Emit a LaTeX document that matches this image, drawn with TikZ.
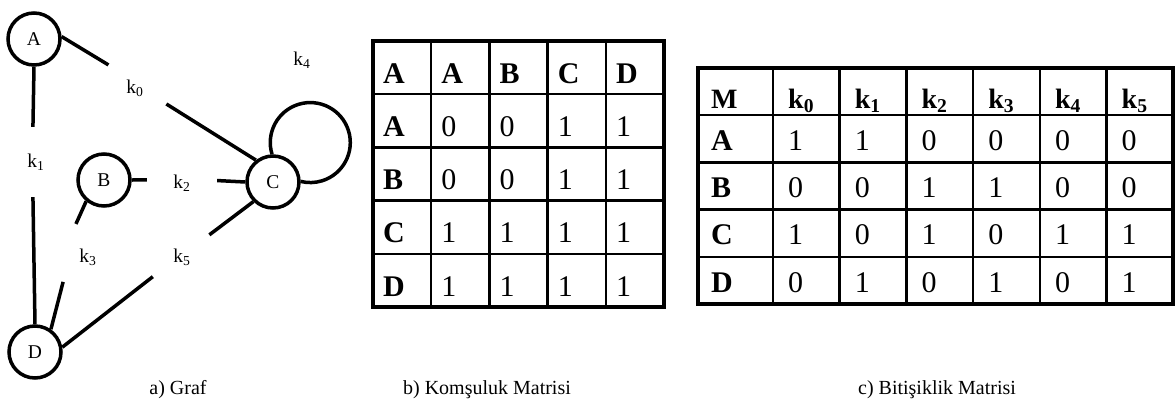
\documentclass[tikz,border=0pt]{standalone}
\usepackage{fontspec}
\setmainfont{Liberation Serif}
\usetikzlibrary{positioning}

\begin{document}
\begin{tikzpicture}[
    x=1pt, y=1pt,
    vertex/.style={circle, draw, line width=3.5pt, minimum size=52pt, inner sep=0pt,
                   font=\fontsize{19.5}{22}\selectfont},
    klabel/.style={circle, minimum size=70pt, inner sep=0pt, font=\fontsize{19.5}{22}\selectfont},
    link/.style={line width=3.5pt},
    cell/.style={anchor=base west, inner sep=0pt, font=\fontsize{30}{34}\selectfont},
    headcell/.style={cell, font=\fontsize{28}{32}\selectfont},
    rule/.style={line width=2.5pt},
    frame/.style={line width=3.5pt},
    caption/.style={anchor=base, font=\fontsize{20}{24}\selectfont}
  ]
    \useasboundingbox (0,0) rectangle (1176,-410);

    % a) graf
    \node[vertex] (A) at (34,-39) {A};
    \node[vertex] (B) at (104,-180) {B};
    \node[vertex] (C) at (273,-182) {C};
    \node[vertex] (D) at (35,-352) {D};
    \node[klabel] (k0) at (135,-88) {k\textsubscript{0}};
    \node[klabel] (k1) at (36,-162) {k\textsubscript{1}};
    \node[klabel] (k2) at (182,-183) {k\textsubscript{2}};
    \node[klabel] (k3) at (88,-257) {k\textsubscript{3}};
    \node[klabel] (k4) at (302,-60) {k\textsubscript{4}};
    \node[klabel] (k5) at (182,-257) {k\textsubscript{5}};
    \draw[link] (A.5) -- (k0.139);
    \draw[link] (k0.333) -- (C.128);
    \draw[link] (A.south) -- (k1.95);
    \draw[link] (k1.265) -- (D.north);
    \draw[link] (B.east) -- (k2.175);
    \draw[link] (k2.4) -- (C.west);
    \draw[link] (B.230) -- (k3.110);
    \draw[link] (k3.225) -- (D.55);
    \draw[link] (C.225) -- (k5.39);
    \draw[link] (k5.214) -- (D.10);
    \draw[link] (C.92) arc[start angle=197, end angle=-104, radius=40];
    \node[caption] (capA) at (178,-394) {a) Graf};

    % b) komsuluk matrisi
    \foreach \row [count=\r from 0] in {{\textbf{A},\textbf{A},\textbf{B},\textbf{C},\textbf{D}},
                                        {\textbf{A},0,0,1,1}, {\textbf{B},0,0,1,1},
                                        {\textbf{C},1,1,1,1}, {\textbf{D},1,1,1,1}}
      \foreach \val [count=\i from 0] in \row
        \node[cell] (komsu-\r-\i) at ({383+58.2*\i}, {-41-53.2*(\r+1)+11}) {\val};
    \foreach \i in {1,...,4}
      \draw[rule] ({373+58.2*\i},-41) -- ++(0,-266);
    \foreach \r in {1,...,4}
      \draw[rule] (373,{-41-53.2*\r}) -- ++(291,0);
    \draw[frame] (373,-41) rectangle (664,-307);
    \node[caption] (capB) at (487,-394) {b) Komşuluk Matrisi};

    % c) bitisiklik matrisi
    \foreach \val [count=\i from 0] in {M,k\textsubscript{0},k\textsubscript{1},k\textsubscript{2},
                                        k\textsubscript{3},k\textsubscript{4},k\textsubscript{5}}
      \node[headcell] (bitis-0-\i) at ({\i==0 ? 711 : 788+66.7*(\i-1)}, -108) {\textbf{\val}};
    \foreach \row [count=\r from 1] in {{\textbf{A},1,1,0,0,0,0}, {\textbf{B},0,0,1,1,0,0},
                                        {\textbf{C},1,0,1,0,1,1}, {\textbf{D},0,1,0,1,0,1}}
      \foreach \val [count=\i from 0] in \row
        \node[cell] (bitis-\r-\i) at ({\i==0 ? 711 : 788+66.7*(\i-1)}, {-68-47.2*(\r+1)+12}) {\val};
    \foreach \i in {0,...,5}
      \draw[rule] ({773+66.7*\i},-68) -- ++(0,-236);
    \foreach \r in {1,...,4}
      \draw[rule] (698,{-68-47.2*\r}) -- ++(475,0);
    \draw[frame] (698,-68) rectangle (1173,-304);
    \node[caption] (capC) at (937,-394) {c) Bitişiklik Matrisi};
  \end{tikzpicture}
\end{document}
